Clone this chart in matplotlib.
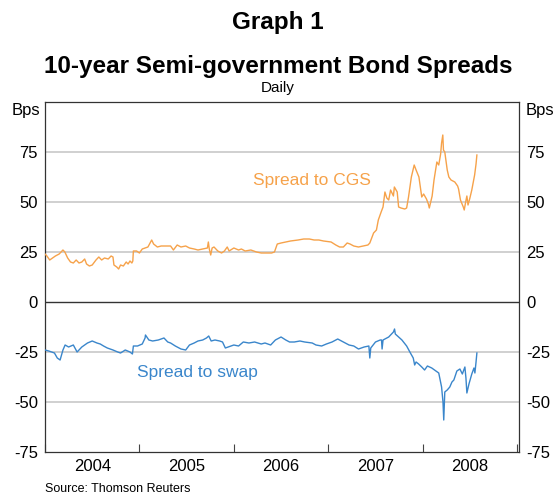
import matplotlib
matplotlib.use("Agg")
import matplotlib.pyplot as plt
import numpy as np

plt.rcParams['font.family'] = ['Liberation Sans', 'DejaVu Sans']

# Years since 2004.0 and values (bps)
cgs_t = [0.0, 0.02, 0.05, 0.08, 0.11, 0.15, 0.19, 0.21, 0.24, 0.27, 0.3, 0.33, 0.36, 0.39, 0.42, 0.44, 0.47, 0.5,
         0.54, 0.57, 0.6, 0.63, 0.67, 0.7, 0.72, 0.73, 0.76, 0.78, 0.8, 0.83, 0.86, 0.88, 0.9, 0.92, 0.93, 0.936,
         0.97, 1.0, 1.03, 1.06, 1.09, 1.13, 1.15, 1.19, 1.23, 1.28, 1.33, 1.36, 1.4, 1.44, 1.49, 1.53, 1.58, 1.62,
         1.67, 1.72, 1.73, 1.74, 1.755, 1.77, 1.79, 1.83, 1.87, 1.9, 1.93, 1.95, 2.0, 2.05, 2.08, 2.12, 2.18, 2.24,
         2.29, 2.34, 2.4, 2.43, 2.46, 2.5, 2.55, 2.6, 2.68, 2.74, 2.8, 2.85, 2.9, 2.95, 3.03, 3.08, 3.12, 3.16, 3.2,
         3.23, 3.27, 3.32, 3.37, 3.42, 3.44, 3.46, 3.48, 3.51, 3.53, 3.56, 3.58, 3.6, 3.62, 3.64, 3.66, 3.69, 3.7,
         3.73, 3.745, 3.77, 3.81, 3.83, 3.85, 3.88, 3.91, 3.93, 3.96, 3.99, 4.01, 4.04, 4.06, 4.07, 4.1, 4.12, 4.15,
         4.17, 4.19, 4.2, 4.213, 4.22, 4.234, 4.26, 4.277, 4.3, 4.34, 4.37, 4.38, 4.4, 4.43, 4.44, 4.455, 4.468,
         4.48, 4.5, 4.52, 4.55, 4.565, 4.574]
cgs_v = [24, 23, 21, 22, 23, 24, 26, 25, 22, 20, 19.5, 21, 19.5, 20, 21.5, 19, 18, 18.5,
         21, 22.5, 21, 22, 21.5, 23, 22.5, 18.5, 17.5, 16.5, 18.5, 18, 20, 19, 20.5, 19.5, 20.5, 25.5,
         25.5, 24.5, 26.5, 27, 27.5, 31, 29, 27.5, 28, 28, 28, 26, 28.5, 27.5, 28, 27, 26.5, 26,
         26.5, 27, 30, 26.5, 23.5, 27, 27.5, 25.5, 24.5, 25.5, 27.5, 25.5, 27, 26, 26.5, 25.5, 26, 25,
         24.5, 24.5, 24.5, 25, 29, 29.5, 30, 30.5, 31, 31.5, 31.5, 31, 31, 30.5, 30, 28.5, 27.5, 27.5, 29.5,
         29, 28, 27.5, 28, 28.5, 29.5, 32, 34.5, 36, 41, 45, 47.5, 55, 52, 51, 56, 53, 57.5,
         55, 47.5, 47, 46.5, 47, 52.5, 62.5, 68.5, 66, 62.5, 52.5, 54, 51.5, 49, 47, 53, 61, 70,
         68.5, 74, 79.5, 83.5, 76, 75, 66, 62.5, 61, 60, 58, 56.5, 51, 47.5, 46, 50, 53,
         48.5, 52, 56, 63.5, 69, 73.5]

swap_t = [0.0, 0.04, 0.1, 0.13, 0.16, 0.19, 0.213, 0.25, 0.3, 0.34, 0.39, 0.45, 0.5, 0.55, 0.585, 0.62, 0.66,
          0.72, 0.77, 0.8, 0.85, 0.9, 0.926, 0.936, 0.98, 1.03, 1.06, 1.064, 1.1, 1.14, 1.2, 1.26, 1.3, 1.33,
          1.38, 1.44, 1.49, 1.53, 1.58, 1.62, 1.67, 1.71, 1.734, 1.76, 1.8, 1.85, 1.88, 1.91, 1.94, 2.0, 2.05,
          2.1, 2.16, 2.22, 2.29, 2.33, 2.39, 2.44, 2.5, 2.55, 2.59, 2.64, 2.7, 2.75, 2.83, 2.87, 2.93, 2.98,
          3.04, 3.1, 3.16, 3.22, 3.27, 3.32, 3.38, 3.43, 3.44, 3.45, 3.5, 3.55, 3.564, 3.57, 3.58, 3.64, 3.69,
          3.702, 3.71, 3.745, 3.78, 3.83, 3.87, 3.9, 3.915, 3.93, 3.957, 3.99, 4.02, 4.05, 4.096, 4.14, 4.17,
          4.2, 4.215, 4.223, 4.234, 4.26, 4.287, 4.31, 4.33, 4.362, 4.394, 4.42, 4.447, 4.458, 4.468, 4.49,
          4.52, 4.543, 4.553, 4.565, 4.574]
swap_v = [-24, -24.5, -25.5, -28, -29, -24, -21.5, -22.5, -21.5, -25, -22.5, -20.5, -19.5, -20.5, -21, -22, -23,
          -24, -25, -25.5, -24, -25, -26, -22, -22, -21, -18, -16.5, -19, -19.5, -19, -18, -20, -20.5,
          -22, -23.5, -24, -21.5, -20.5, -19.5, -19, -18, -17, -19.5, -19, -19.5, -20, -23, -22.5, -21.5, -22,
          -20, -20.5, -20, -21, -20.5, -21.5, -19, -17.5, -19, -20, -20, -19.5, -20, -20.5, -21.5, -22, -21,
          -20, -18.5, -20, -21.5, -22, -23.5, -22.5, -22, -28, -23, -20, -19, -19, -23.5, -19, -17.5, -15,
          -13.5, -16, -17.5, -19, -22, -25.5, -28, -31.5, -30, -31, -32.5, -34, -32, -33, -34.5, -35.5,
          -42.5, -50, -59, -45, -44, -42.5, -40, -39, -34.5, -33.5, -36, -32.5, -38, -45.5, -41,
          -36, -33, -35.5, -30, -25.5]

start_year = 2004
years = [2004, 2005, 2006, 2007, 2008]
yticks = [-75, -50, -25, 0, 25, 50, 75]
ytick_labels = ['-75', '-50', '-25', '0', '25', '50', '75']

orange = '#F6A24A'
blue = '#3A86CB'

fig = plt.figure(figsize=(5.56, 4.97), dpi=100)
ax = fig.add_axes([45/556, 1-452/497, (519-45)/556, (452-102)/497])

for g in [-50, -25, 25, 50, 75]:
    ax.axhline(g, color='#C4C4C4', lw=1.1, zorder=1)
ax.axhline(0, color='#333333', lw=1.0, zorder=2)

ax.plot(np.array(cgs_t) + start_year, cgs_v, color=orange, lw=1.0, zorder=3)
ax.plot(np.array(swap_t) + start_year, swap_v, color=blue, lw=1.0, zorder=3)

ax.set_xlim(2004, 2009.02)
ax.set_ylim(-75, 100)

ax.set_yticks(yticks)
ax.set_yticklabels(ytick_labels)
ax.tick_params(axis='y', length=0, labelsize=12, pad=5, left=True, right=True, labelleft=True, labelright=True)

ax.set_xticks(years + [2009])
ax.set_xticklabels([])
ax.tick_params(axis='x', direction='in', length=6, width=0.8, color='#444444')
ax.set_xticks([y + 0.5 for y in years], minor=True)
ax.set_xticklabels([str(y) for y in years], minor=True, fontsize=12)
ax.tick_params(axis='x', which='minor', length=0, pad=5)

for s in ax.spines.values():
    s.set_color('#333333')
    s.set_linewidth(0.9)

# Unit labels
fig.text(40/556, 1-110/497, 'Bps', ha='right', va='center', fontsize=12)
fig.text(526/556, 1-110/497, 'Bps', ha='left', va='center', fontsize=12)

ax.text(2006.83, 61, 'Spread to CGS', color=orange, fontsize=12.5, ha='center', va='center')
ax.text(2005.61, -35, 'Spread to swap', color=blue, fontsize=12.5, ha='center', va='center')

fig.text(0.5, 1-22/497, 'Graph 1', ha='center', va='center', fontsize=17.5, fontweight='bold')
fig.text(0.5, 1-66/497, '10-year Semi-government Bond Spreads', ha='center', va='center', fontsize=17.5, fontweight='bold')
fig.text(0.5, 1-88/497, 'Daily', ha='center', va='center', fontsize=11)
fig.text(45/556, 1-489/497, 'Source: Thomson Reuters', ha='left', va='center', fontsize=9)

fig.savefig('out.png', dpi=100)
